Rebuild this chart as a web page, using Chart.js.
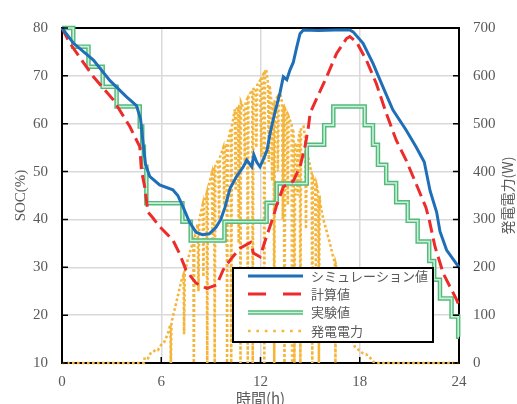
<!DOCTYPE html>
<html>
<head>
<meta charset="utf-8">
<script src="https://cdn.jsdelivr.net/npm/chart.js@4/dist/chart.umd.min.js"></script>
<style>
  html, body { margin: 0; padding: 0; background: #fff; }
  canvas { display: block; }
</style>
</head>
<body>
<canvas id="chart" width="517" height="404"></canvas>
<script>
// SOC シミュレーション値 (%)
const simHours = [0, 0.7, 1.9, 2.9, 3.9, 4.5, 4.75, 4.9, 5.05, 5.3, 5.9, 6.7, 7.0, 7.33, 7.7, 8.1, 8.5, 8.9, 9.3, 9.6, 9.85,
  10.16, 10.56, 10.96, 11.17, 11.47, 11.6, 11.77, 11.97, 12.2, 12.4, 12.58, 12.88, 13.18, 13.38, 13.59, 13.78, 13.98,
  14.19, 14.39, 14.59, 15.5, 16.5, 17.4, 17.6, 18.2, 18.8, 19.4, 20.0, 20.8, 21.4, 21.9, 22.25, 22.65, 22.85, 23.25, 24];
const simSoc = [80, 76.8, 73.3, 69, 65.6, 63.8, 61, 56, 51.5, 49, 47.2, 46.2, 45, 42.5, 39.5, 37.3, 36.8, 37, 38.3, 40, 42.5,
  46.5, 49, 51, 52.4, 51, 53.5, 52, 51, 52.8, 54.5, 58, 62.5, 66.5, 69.8, 69.2, 71.2, 72.8,
  76, 78.8, 79.6, 79.5, 79.6, 79.6, 79.2, 76.8, 72.6, 67.7, 62.9, 58.7, 55.2, 52, 46, 41.5, 37.5, 33.6, 30];

// SOC 計算値 (%)
const calcHours = [0, 0.48, 1.9, 3.1, 4.1, 4.7, 4.8, 5.0, 5.2, 5.5, 5.9, 6.7, 7.1, 7.5, 8.1, 8.75, 9.35, 9.75, 10.16,
  10.76, 11.4, 11.57, 11.97, 12.38, 12.78, 12.98, 13.38, 13.98, 14.39, 14.69, 14.9, 15.0, 15.4, 16.0, 16.6, 17.2, 17.4,
  17.8, 18.4, 19.0, 19.6, 20.2, 20.8, 21.4, 22.0, 22.2, 22.55, 23.05, 23.86, 24];
const calcSoc = [80, 76.8, 69.8, 65, 59.4, 55.2, 50.3, 46.8, 41.5, 40.3, 38.5, 35.7, 32.9, 29.4, 26.7, 25.6, 26.3, 29.5, 31.5,
  34, 35.2, 33, 32.2, 36.6, 40.6, 43, 46.8, 48, 51, 55.2, 59.4, 62.2, 65.3, 69.8, 74.7, 77.8, 78.2,
  77.1, 73.3, 68.4, 62.2, 56.6, 52.4, 47.5, 42.5, 39.9, 34.3, 28.7, 23.2, 22];

// SOC 実験値 (%) : 各時刻から次の時刻まで一定
const expHours = [0, 0.68, 1.6, 2.46, 3.3, 4.7, 4.85, 4.95, 5.1, 7.28, 7.78, 9.82, 12.37, 12.98, 14.8, 15.85, 16.4,
  18.3, 18.8, 19.1, 19.6, 20.2, 20.9, 21.5, 22.2, 22.5, 22.85, 23.55, 23.95, 24];
const expSoc = [80, 76.1, 71.9, 67.7, 63.6, 59.4, 55.2, 51, 43.4, 39.5, 35.6, 39.5, 43.5, 47.5, 55.6, 59.7, 63.6,
  59.7, 55.6, 51.4, 47.6, 43.6, 39.7, 35.4, 31.3, 27.4, 23.5, 19.7, 15.5, 15.5];

// 発電電力 (W) : 雲の影で何度も落ち込む
const powerHours = [0, 4.95, 5.0, 5.2, 5.35, 5.5, 5.65, 5.8, 6.0, 6.2,
  6.4, 6.55, 6.58, 6.62, 6.9, 7.2, 7.35, 7.38, 7.42, 7.6,
  7.8, 7.94, 7.97, 8.0, 8.2, 8.25, 8.3, 8.5, 8.55, 8.6,
  8.75, 8.78, 8.82, 8.9, 9.05, 9.1, 9.15, 9.2, 9.23, 9.27,
  9.45, 9.5, 9.55, 9.75, 9.8, 9.85, 9.95, 9.98, 10.02, 10.2,
  10.23, 10.27, 10.35, 10.45, 10.5, 10.55, 10.65, 10.68, 10.72, 10.76,
  10.79, 10.82, 11.0, 11.05, 11.1, 11.2, 11.23, 11.27, 11.4, 11.5,
  11.53, 11.57, 11.7, 11.75, 11.8, 11.97, 12.05, 12.1, 12.2, 12.23,
  12.27, 12.35, 12.45, 12.5, 12.55, 12.65, 12.7, 12.75, 12.8, 12.83,
  12.86, 13.0, 13.05, 13.1, 13.2, 13.3, 13.35, 13.4, 13.45, 13.5,
  13.6, 13.65, 13.7, 13.88, 13.91, 13.94, 14.0, 14.05, 14.1, 14.2,
  14.25, 14.3, 14.38, 14.41, 14.45, 14.6, 14.7, 14.75, 14.8, 15.0,
  15.1, 15.13, 15.16, 15.3, 15.35, 15.4, 15.5, 15.53, 15.57, 15.6,
  15.8, 16.0, 16.2, 16.4, 16.5, 16.53, 16.56, 16.8, 17.0, 17.3,
  17.5, 17.7, 17.9, 18.2, 18.4, 18.6, 18.8, 19.0, 24];
const powerWatts = [0, 0, 12, 10, 20, 22, 28, 27, 38, 45,
  62, 80, 0, 85, 125, 170, 185, 60, 190, 215,
  240, 255, 0, 260, 290, 150, 300, 330, 180, 335,
  355, 0, 360, 375, 395, 260, 400, 410, 0, 412,
  425, 300, 430, 450, 330, 452, 458, 0, 462, 490,
  0, 495, 510, 530, 360, 530, 535, 250, 538, 540,
  0, 545, 530, 420, 545, 552, 0, 555, 565, 570,
  0, 572, 575, 450, 580, 590, 430, 600, 605, 0,
  608, 612, 585, 420, 580, 550, 380, 545, 545, 0,
  548, 555, 400, 560, 563, 545, 300, 540, 0, 530,
  522, 330, 515, 498, 0, 490, 480, 0, 460, 452,
  350, 470, 485, 0, 492, 494, 470, 280, 445, 410,
  395, 0, 390, 378, 200, 370, 355, 0, 350, 335,
  300, 275, 250, 220, 210, 0, 205, 172, 145, 105,
  62, 34, 28, 20, 18, 12, 3, 0, 0];

const hourTicks = [0, 6, 12, 18, 24];
const socTicks = [10, 20, 30, 40, 50, 60, 70, 80];
const wattTicks = [0, 100, 200, 300, 400, 500, 600, 700];
const legendLabels = ['シミュレーション値', '計算値', '実験値', '発電電力'];

const BLUE = '#1f6fb8';
const RED = '#ee2b2b';
const GREEN = '#52bb7c';
const GREEN_IN = '#cdeed8';
const ORANGE = '#f5b53a';
const TEXT = '#595959';
const GRID = '#d9d9d9';

const pts = (xs, ys) => xs.map((x, i) => ({ x: x, y: ys[i] }));

// 目盛り線は内向き、凡例と軸タイトルは手描き
const decor = {
  id: 'decor',
  beforeDatasetsDraw(chart) {
    const { ctx, chartArea: a } = chart;
    ctx.save();
    ctx.strokeStyle = '#000';
    ctx.lineWidth = 2;
    ctx.beginPath();
    ctx.moveTo(a.left - 1, a.top);
    ctx.lineTo(a.right + 1, a.top);
    ctx.stroke();
    ctx.restore();
  },
  afterDatasetsDraw(chart) {
    const { ctx, chartArea: a, scales } = chart;
    ctx.save();
    ctx.strokeStyle = '#000';
    ctx.lineWidth = 1.5;
    ctx.beginPath();
    socTicks.forEach(v => {
      const y = scales.y.getPixelForValue(v);
      ctx.moveTo(a.left, y); ctx.lineTo(a.left + 6, y);
    });
    wattTicks.forEach(v => {
      const y = scales.y2.getPixelForValue(v);
      ctx.moveTo(a.right, y); ctx.lineTo(a.right - 6, y);
    });
    hourTicks.forEach(v => {
      const x = scales.x.getPixelForValue(v);
      ctx.moveTo(x, a.bottom); ctx.lineTo(x, a.bottom - 6);
    });
    ctx.stroke();

    // 凡例
    const bx = 233, by = 268, bw = 200, bh = 74;
    ctx.fillStyle = '#fff';
    ctx.fillRect(bx, by, bw, bh);
    ctx.lineWidth = 2;
    ctx.strokeStyle = '#000';
    ctx.strokeRect(bx, by, bw, bh);
    const rows = [276, 294, 312.5, 331];
    const x0 = 248, x1 = 303;
    const line = (y, color, width, dash) => {
      ctx.beginPath();
      ctx.setLineDash(dash);
      ctx.strokeStyle = color;
      ctx.lineWidth = width;
      ctx.moveTo(x0, y); ctx.lineTo(x1, y);
      ctx.stroke();
    };
    ctx.lineCap = 'butt';
    line(rows[0], BLUE, 3, []);
    line(rows[1], RED, 3, [18, 17]);
    line(rows[2], GREEN, 4.5, []);
    line(rows[2], GREEN_IN, 1.6, []);
    line(rows[3], ORANGE, 2.6, [2.6, 5.8]);
    ctx.setLineDash([]);
    ctx.fillStyle = TEXT;
    ctx.font = '13px "Noto Sans CJK JP"';
    ctx.textAlign = 'left';
    ctx.textBaseline = 'middle';
    legendLabels.forEach((t, i) => ctx.fillText(t, 311, rows[i]));
    ctx.restore();
  },
  afterDraw(chart) {
    const { ctx, chartArea: a } = chart;
    const cy = (a.top + a.bottom) / 2;
    ctx.save();
    ctx.fillStyle = TEXT;
    ctx.textAlign = 'center';
    ctx.textBaseline = 'middle';
    ctx.font = '15px "Liberation Serif"';
    ctx.translate(21, cy);
    ctx.rotate(-Math.PI / 2);
    ctx.fillText('SOC(%)', 0, 0);
    ctx.restore();

    ctx.save();
    ctx.fillStyle = TEXT;
    ctx.textAlign = 'center';
    ctx.textBaseline = 'middle';
    ctx.font = '14px "Noto Sans CJK JP"';
    ctx.translate(508, cy);
    ctx.rotate(-Math.PI / 2);
    ctx.fillText('発電電力(W)', 0, 0);
    ctx.restore();

    ctx.save();
    ctx.fillStyle = TEXT;
    ctx.textAlign = 'center';
    ctx.textBaseline = 'top';
    ctx.font = '15px "Noto Sans CJK JP"';
    ctx.fillText('時間(h)', (a.left + a.right) / 2, 391);
    ctx.restore();
  }
};

const tickFont = { family: 'Liberation Serif', size: 15 };

new Chart(document.getElementById('chart'), {
  type: 'line',
  data: {
    datasets: [
      { label: legendLabels[0], data: pts(simHours, simSoc), yAxisID: 'y',
        borderColor: BLUE, borderWidth: 3 },
      { label: legendLabels[1], data: pts(calcHours, calcSoc), yAxisID: 'y',
        borderColor: RED, borderWidth: 3, borderDash: [13, 6] },
      { label: legendLabels[2] + '_in', data: pts(expHours, expSoc), yAxisID: 'y',
        borderColor: GREEN_IN, borderWidth: 1.6, stepped: 'before' },
      { label: legendLabels[2], data: pts(expHours, expSoc), yAxisID: 'y',
        borderColor: GREEN, borderWidth: 4.5, stepped: 'before' },
      { label: legendLabels[3], data: pts(powerHours, powerWatts), yAxisID: 'y2',
        borderColor: ORANGE, borderWidth: 2.6, borderDash: [2.6, 2.4] }
    ]
  },
  options: {
    responsive: false,
    devicePixelRatio: 1,
    animation: false,
    events: [],
    layout: { padding: { top: 28, left: 0, right: 0, bottom: 0 } },
    elements: {
      point: { radius: 0 },
      line: { tension: 0, fill: false }
    },
    datasets: { line: { clip: false } },
    plugins: { legend: { display: false }, tooltip: { enabled: false } },
    scales: {
      x: {
        type: 'linear', min: 0, max: 24,
        afterBuildTicks: s => { s.ticks = hourTicks.map(v => ({ value: v })); },
        afterFit: s => { s.height = 41; },
        grid: { color: GRID, lineWidth: 1.5, drawTicks: false },
        border: { color: '#000', width: 2 },
        ticks: { font: tickFont, color: TEXT, padding: 10, maxRotation: 0 }
      },
      y: {
        position: 'left', min: 10, max: 80,
        afterBuildTicks: s => { s.ticks = socTicks.map(v => ({ value: v })); },
        afterFit: s => { s.width = 62; },
        grid: { color: GRID, lineWidth: 1.5, drawTicks: false },
        border: { color: '#000', width: 2 },
        ticks: { font: tickFont, color: TEXT, padding: 14 }
      },
      y2: {
        position: 'right', min: 0, max: 700,
        afterBuildTicks: s => { s.ticks = wattTicks.map(v => ({ value: v })); },
        afterFit: s => { s.width = 58; },
        grid: { drawOnChartArea: false, drawTicks: false },
        border: { color: '#000', width: 2 },
        ticks: { font: tickFont, color: TEXT, padding: 14 }
      }
    }
  },
  plugins: [decor]
});
</script>
</body>
</html>
